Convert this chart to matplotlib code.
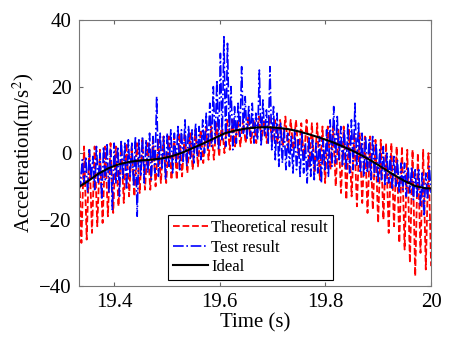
import numpy as np
import matplotlib
matplotlib.use("Agg")
import matplotlib.pyplot as plt

plt.rcParams['font.family'] = ['Liberation Serif', 'DejaVu Serif']
plt.rcParams['mathtext.fontset'] = 'stix'

# ideal curve (time, acceleration)
ideal_t = [19.333, 19.35, 19.37, 19.39, 19.41, 19.43, 19.45, 19.47, 19.49, 19.51,
           19.53, 19.55, 19.57, 19.59, 19.61, 19.63, 19.65, 19.67, 19.69, 19.71,
           19.73, 19.75, 19.77, 19.79, 19.81, 19.83, 19.85, 19.87, 19.89, 19.91,
           19.93, 19.95, 19.97, 19.99, 20.0]
ideal_a = [-10.2, -8.5, -6.2, -4.5, -3.3, -2.6, -2.2, -2.0, -1.6, -0.9,
           0.2, 1.6, 3.0, 4.5, 6.0, 6.8, 7.4, 7.7, 7.8, 7.6,
           7.2, 6.5, 5.6, 4.6, 3.5, 2.2, 0.8, -0.8, -2.6, -4.6,
           -6.6, -8.4, -9.9, -10.6, -10.6]

# theoretical result, peaks and troughs
theory_a = [0, -27, 2, -26, 1, -24, 2, -22, 1, -21, 2, -19, 3, -18, 2, -16,
            3, -15, 3, -13, 2, -13, 3, -12, 4, -11, 3, -11, 4, -10, 4, -9,
            5, -9, 5, -8, 5, -8, 6, -7, 6, -6, 6, -5, 7, -4, 7, -3,
            8, -2, 8, -2, 9, -1, 9, 0, 10, 1, 10, 2, 10, 2, 10, 3,
            11, 3, 10, 3, 11, 4, 10, 3, 11, 3, 10, 3, 10, 2, 11, 1,
            10, 1, 10, -1, 9, -2, 10, -4, 9, -6, 9, -8, 8, -9, 8, -5,
            8, -10, 7, -12, 8, -14, 7, -13, 6, -16, 6, -15, 5, -18, 5, -17,
            4, -21, 4, -20, 3, -24, 3, -22, 2, -27, 2, -29, 1, -33, 1, -37,
            0, -30, 1, -35, 0, -34]

# test result
test_a = [-3, -10, -2, -9, -1, -12, 1, -8, -1, -11, 2, -9, 0, -14, 2, -8,
          3, -12, 1, -17, 3, -9, 2, -13, 4, -8, 3, -11, 4, -7, 3, -10,
          5, -19, 4, -7, 5, -9, 4, -6, 6, -8, 5, -6, 17, -7, 6, -5,
          5, -8, 6, -4, 7, -6, 6, -3, 8, -5, 7, -3, 10, -4, 8, -2,
          7, -3, 9, -1, 8, -2, 10, 0, 12, 1, 15, 2, 20, 3, 22, 1,
          30, 4, 35, 2, 33, 5, 20, 1, 14, 3, 15, 5, 26, 6, 17, 4,
          14, 5, 15, 3, 12, 4, 25, 2, 16, 5, 13, 3, 26, 1, 14, -2,
          12, -4, 9, -3, 8, -5, 6, -4, 5, -6, 7, -5, 4, -7, 6, -6,
          3, -9, 5, -7, 4, -8, 3, -6, 5, -9, 4, -5, 7, -7, 10, -4,
          14, -3, 11, -2, 8, -4, 7, -5, 9, -6, 10, -5, 15, -4, 9, -6,
          6, -7, 5, -6, 4, -8, 5, -7, 3, -9, 1, -8, 2, -10, 0, -9,
          -1, -11, -1, -10, -2, -12, -3, -11, -3, -13, -4, -12, -4, -14, -5, -13,
          -5, -16, -6, -19, -6, -14, -4, -12]

theory_t = np.linspace(19.333, 20.0, len(theory_a))
test_t = np.linspace(19.333, 20.0, len(test_a))

fig = plt.figure(figsize=(4.5, 3.41), dpi=100)
ax = fig.add_axes([0.175, 0.161, 0.783, 0.780])

ax.plot(theory_t, theory_a, '--', color='#ff0000', lw=1.3, label='Theoretical result')
ax.plot(test_t, test_a, '-.', color='#0000ff', lw=1.2, label='Test result')
ax.plot(ideal_t, ideal_a, '-', color='black', lw=1.5, label='Ideal')

ax.set_xlim(19.333, 20.0)
ax.set_ylim(-40, 40)
ax.set_xticks([19.4, 19.6, 19.8, 20.0])
ax.set_xticklabels(['19.4', '19.6', '19.8', '20'])
ax.set_yticks([-40, -20, 0, 20, 40])
ax.tick_params(direction='in', top=True, right=True, labelsize=15,
               color='#666666', length=3, pad=5)
for s in ax.spines.values():
    s.set_color('#777777')
    s.set_linewidth(0.8)

ax.set_xlabel('Time (s)', fontsize=15, labelpad=1)
ax.set_ylabel('Acceleration(m/s$^{2}$)', fontsize=15, labelpad=2)

leg = ax.legend(loc='lower left', bbox_to_anchor=(0.253, 0.023), fontsize=12,
                fancybox=False, framealpha=1, edgecolor='black',
                handlelength=2.1, labelspacing=0.2, borderpad=0.3,
                handletextpad=0.2, borderaxespad=0)
leg.get_frame().set_linewidth(0.8)

fig.savefig('out.png', dpi=100)
